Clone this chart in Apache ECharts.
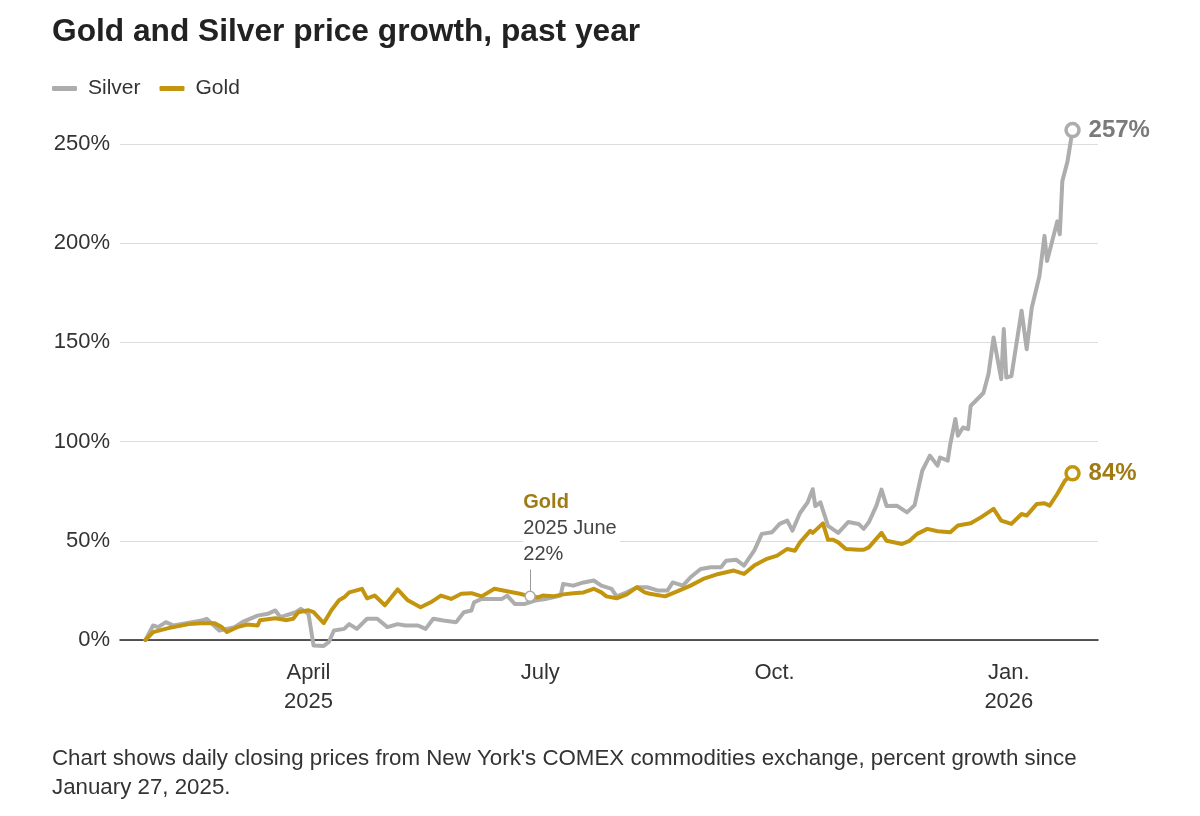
<!DOCTYPE html>
<html>
<head>
<meta charset="utf-8">
<title>Gold and Silver price growth, past year</title>
<script src="https://cdn.jsdelivr.net/npm/echarts@6/dist/echarts.min.js"></script>
<style>
  html, body { margin: 0; padding: 0; background: #fff; }
  #chart { width: 1200px; height: 816px; }
</style>
</head>
<body>
<div id="chart"></div>
<script>
// percent growth since Jan 27, 2025
const silverDates = [
  '2025-01-27','2025-01-30','2025-02-01','2025-02-04','2025-02-07','2025-02-12','2025-02-18','2025-02-20',
  '2025-02-25','2025-03-03','2025-03-06','2025-03-12','2025-03-16','2025-03-19','2025-03-21','2025-03-27',
  '2025-03-29','2025-04-01','2025-04-03','2025-04-07','2025-04-09','2025-04-11','2025-04-15','2025-04-17',
  '2025-04-20','2025-04-24','2025-04-28','2025-05-02','2025-05-06','2025-05-09','2025-05-14','2025-05-17',
  '2025-05-20','2025-05-24','2025-05-29','2025-06-01','2025-06-04','2025-06-05','2025-06-08','2025-06-12',
  '2025-06-16','2025-06-18','2025-06-21','2025-06-25','2025-06-29','2025-07-03','2025-07-09','2025-07-10',
  '2025-07-14','2025-07-18','2025-07-22','2025-07-25','2025-07-29','2025-07-31','2025-08-04','2025-08-08',
  '2025-08-12','2025-08-16','2025-08-20','2025-08-22','2025-08-26','2025-08-29','2025-09-02','2025-09-06',
  '2025-09-10','2025-09-12','2025-09-16','2025-09-19','2025-09-23','2025-09-26','2025-09-30','2025-10-03',
  '2025-10-06','2025-10-08','2025-10-11','2025-10-14','2025-10-16','2025-10-17','2025-10-19','2025-10-22',
  '2025-10-26','2025-10-30','2025-11-03','2025-11-05','2025-11-07','2025-11-10','2025-11-12','2025-11-14',
  '2025-11-18','2025-11-22','2025-11-25','2025-11-28','2025-12-01','2025-12-04','2025-12-05','2025-12-08',
  '2025-12-09','2025-12-11','2025-12-12','2025-12-14','2025-12-16','2025-12-17','2025-12-19','2025-12-22',
  '2025-12-24','2025-12-26','2025-12-29','2025-12-30','2025-12-31','2026-01-02','2026-01-06','2026-01-08',
  '2026-01-10','2026-01-13','2026-01-15','2026-01-16','2026-01-20','2026-01-21','2026-01-22','2026-01-24',
  '2026-01-26'
];
const silverValues = [
  0, 7.3, 6.5, 9, 7.3, 8.5, 9.8, 10.7,
  4.8, 6.5, 9, 12.3, 13.2, 14.9, 11.5, 14,
  15.7, 13.2, -2.8, -3, -1, 4.8, 5.6, 8,
  5.6, 10.7, 10.7, 6.5, 8, 7.3, 7.3, 5.6,
  10.7, 9.8, 9, 14, 14.9, 19, 20.7, 20.7,
  20.7, 22.4, 18.2, 18.2, 19.9, 20.7, 22.4, 28.3,
  27.4, 29, 30, 27.4, 25.8, 22, 24, 26.6,
  26.6, 25, 25, 29, 27.4, 31.6, 35.8, 36.7,
  36.7, 40, 40.4, 37.5, 45, 53.5, 54.3, 58.5,
  60.2, 55.1, 64, 69.4, 76, 67.5, 69.4, 57.5,
  54, 59.5, 58.5, 56, 59.3, 67.7, 75.8, 67.5,
  67.7, 64.3, 68, 85.3, 92.9, 87.9, 92, 90.4,
  98.8, 111.4, 103, 107.1, 106.3, 118, 120.6, 124.5,
  134, 152.5, 131.5, 156.7, 132.3, 133, 166, 146.6,
  167.5, 183.5, 203.7, 191, 211, 204.5, 231.4, 241,
  257
];

const goldDates = [
  '2025-01-27','2025-01-30','2025-02-05','2025-02-13','2025-02-18','2025-02-23','2025-02-26','2025-02-28',
  '2025-03-04','2025-03-08','2025-03-12','2025-03-13','2025-03-19','2025-03-23','2025-03-26','2025-03-28',
  '2025-04-01','2025-04-03','2025-04-07','2025-04-10','2025-04-13','2025-04-15','2025-04-17','2025-04-22',
  '2025-04-24','2025-04-27','2025-05-01','2025-05-06','2025-05-10','2025-05-15','2025-05-19','2025-05-23',
  '2025-05-27','2025-05-31','2025-06-04','2025-06-08','2025-06-13','2025-06-18','2025-06-23','2025-06-27',
  '2025-06-30','2025-07-02','2025-07-06','2025-07-10','2025-07-14','2025-07-18','2025-07-22','2025-07-25',
  '2025-07-27','2025-07-31','2025-08-04','2025-08-08','2025-08-11','2025-08-13','2025-08-19','2025-08-24',
  '2025-08-29','2025-09-03','2025-09-09','2025-09-15','2025-09-19','2025-09-23','2025-09-28','2025-10-02',
  '2025-10-06','2025-10-09','2025-10-11','2025-10-15','2025-10-16','2025-10-20','2025-10-22','2025-10-24',
  '2025-10-26','2025-10-29','2025-11-03','2025-11-05','2025-11-07','2025-11-12','2025-11-14','2025-11-20',
  '2025-11-23','2025-11-26','2025-11-30','2025-12-04','2025-12-09','2025-12-12','2025-12-17','2025-12-21',
  '2025-12-26','2025-12-29','2026-01-02','2026-01-06','2026-01-08','2026-01-12','2026-01-15','2026-01-17',
  '2026-01-20','2026-01-23','2026-01-26'
];
const goldValues = [
  0, 4, 6, 8, 8.5, 8.5, 6.5, 4,
  6.5, 7.8, 7.3, 10, 11, 10, 10.7, 14,
  15, 14, 8.5, 15, 20, 21.5, 24, 25.8,
  21, 22.4, 17.5, 25.5, 20, 16.5, 19, 22.4,
  20.7, 23.3, 23.6, 22, 25.8, 24.6, 23.3, 22,
  21.5, 22.4, 22, 23, 23.6, 24, 25.8, 24,
  22, 21, 23, 26.6, 24, 23.3, 22, 24.6,
  27.4, 30.8, 33.3, 35, 33.3, 37.5, 40.9, 42.5,
  45.9, 45, 49.2, 55, 54, 58.8, 50.5, 50.5,
  49.2, 45.9, 45.5, 45.5, 46.7, 54, 50, 48.4,
  50, 53.5, 56, 54.8, 54.3, 57.7, 58.8, 61.8,
  66.1, 60.2, 58.5, 63.5, 62.7, 68.6, 68.9, 67.7,
  73.6, 80.3, 84
];

const xTickDates = ['2025-04-01', '2025-07-01', '2025-10-01', '2026-01-01'];
const xTickLabels = ['April\n2025', 'July', 'Oct.', 'Jan.\n2026'];
const xRange = ['2025-01-17', '2026-02-05'];

// hover note shown on the gold line
const noteDate = '2025-06-27';
const noteValue = 22;
const noteText = '2025 June';

const SILVER = '#adadad';
const GOLD = '#c3950f';
const SILVER_TEXT = '#7a7a7a';
const GOLD_TEXT = '#a07a14';
const FONT = '"Liberation Sans", Arial, sans-serif';

const toTime = d => echarts.number.parseDate(d).getTime();
const pairs = (dates, values) => dates.map((d, i) => [toTime(d), values[i]]);
const tickTimes = xTickDates.map(toTime);
const last = arr => arr[arr.length - 1];

function endLabel(color) {
  return {
    show: true, distance: 16,
    formatter: p => Math.round(p.value[1]) + '%',
    fontFamily: FONT, fontSize: 24, fontWeight: 'bold', color: color
  };
}

const chart = echarts.init(document.getElementById('chart'), null, { renderer: 'canvas' });

const option = {
  animation: false,
  textStyle: { fontFamily: FONT },
  title: [
    {
      text: 'Gold and Silver price growth, past year',
      left: 52, top: 14, padding: 0,
      textStyle: { fontFamily: FONT, fontSize: 31.7, fontWeight: 'bold', color: '#222', lineHeight: 36 }
    },
    {
      text: "Chart shows daily closing prices from New York's COMEX commodities exchange, percent growth since\nJanuary 27, 2025.",
      left: 52, top: 744, padding: 0,
      textStyle: { fontFamily: FONT, fontSize: 22.3, fontWeight: 'normal', color: '#333', lineHeight: 29 }
    }
  ],
  legend: {
    data: ['Silver', 'Gold'],
    left: 52, top: 78, padding: 0,
    icon: 'roundRect',
    itemWidth: 25, itemHeight: 5, itemGap: 19,
    textStyle: { fontFamily: FONT, fontSize: 21, color: '#333', padding: [0, 0, 0, 6] },
    selectedMode: false
  },
  grid: { left: 120, right: 102, top: 144, bottom: 176 },
  xAxis: {
    type: 'value',
    min: toTime(xRange[0]),
    max: toTime(xRange[1]),
    axisLine: { show: true, lineStyle: { color: '#222', width: 1.5 } },
    axisTick: { show: false },
    splitLine: { show: false },
    axisLabel: {
      customValues: tickTimes,
      formatter: v => {
        const i = tickTimes.findIndex(t => Math.abs(t - v) < 3600000);
        return i >= 0 ? xTickLabels[i] : '';
      },
      fontFamily: FONT, fontSize: 22, color: '#333', lineHeight: 29, margin: 18,
      showMinLabel: true, showMaxLabel: true, hideOverlap: false
    }
  },
  yAxis: {
    type: 'value',
    min: 0, max: 250, interval: 50,
    axisLine: { show: false },
    axisTick: { show: false },
    splitLine: { lineStyle: { color: '#dcdcdc', width: 1 } },
    axisLabel: { formatter: '{value}%', fontFamily: FONT, fontSize: 22, color: '#333', margin: 10 }
  },
  series: [
    {
      name: 'Silver',
      type: 'line',
      data: pairs(silverDates, silverValues),
      showSymbol: false,
      clip: false,
      color: SILVER,
      lineStyle: { width: 4, color: SILVER, cap: 'round', join: 'round' },
      emphasis: { disabled: true },
      endLabel: endLabel(SILVER_TEXT)
    },
    {
      name: 'Gold',
      type: 'line',
      data: pairs(goldDates, goldValues),
      showSymbol: false,
      clip: false,
      color: GOLD,
      lineStyle: { width: 4, color: GOLD, cap: 'round', join: 'round' },
      emphasis: { disabled: true },
      endLabel: endLabel(GOLD_TEXT),
      markLine: {
        silent: true, animation: false,
        symbol: ['none', 'none'],
        label: { show: false },
        lineStyle: { color: '#999', width: 1, type: 'solid' },
        data: [[{ coord: [toTime(noteDate), noteValue + 2.5] }, { coord: [toTime(noteDate), noteValue + 13.5] }]]
      },
      markPoint: {
        silent: true, animation: false,
        data: [{
          coord: [toTime(noteDate), noteValue],
          symbol: 'circle', symbolSize: 10,
          itemStyle: { color: '#fff', borderColor: '#aaa', borderWidth: 1.5 },
          label: {
            show: true,
            position: [-1, -23],
            align: 'left',
            verticalAlign: 'bottom',
            backgroundColor: '#fff',
            padding: [0, 3, 0, 0],
            formatter: '{t|Gold}\n{d|' + noteText + '}\n{d|' + noteValue + '%}',
            rich: {
              t: { fontFamily: FONT, fontSize: 20, fontWeight: 'bold', color: GOLD_TEXT, lineHeight: 26 },
              d: { fontFamily: FONT, fontSize: 20, color: '#444', lineHeight: 26 }
            }
          }
        }]
      }
    },
    {
      // hollow circles at the last close of each metal
      name: 'ends',
      type: 'scatter',
      clip: false,
      silent: true,
      z: 5,
      symbol: 'circle',
      symbolSize: 13,
      data: [
        { value: [toTime(last(silverDates)), last(silverValues)], itemStyle: { color: '#fff', borderColor: SILVER, borderWidth: 3.5, opacity: 1 } },
        { value: [toTime(last(goldDates)), last(goldValues)], itemStyle: { color: '#fff', borderColor: GOLD, borderWidth: 3.5, opacity: 1 } }
      ]
    }
  ]
};

chart.setOption(option);
</script>
</body>
</html>
